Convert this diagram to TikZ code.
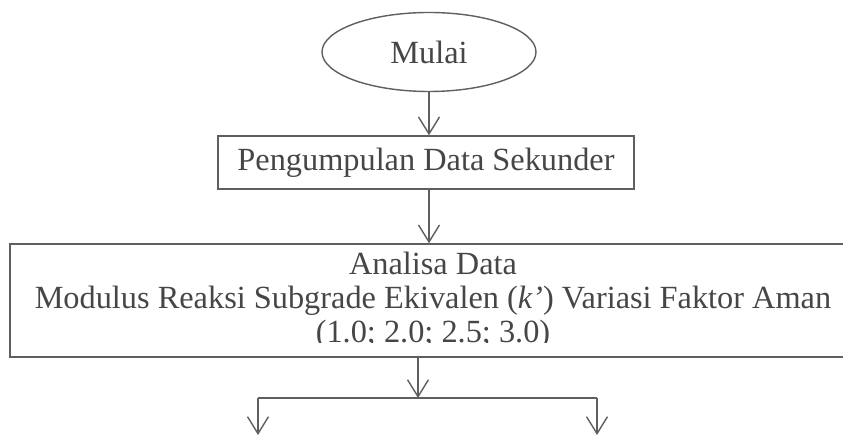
\documentclass[tikz,border=0pt]{standalone}
\usepackage{fontspec}
\setmainfont{Liberation Serif}
\usetikzlibrary{shapes.geometric}
\usetikzlibrary{arrows.meta}
\definecolor{garis}{RGB}{95,95,95}
\definecolor{tulisan}{RGB}{70,70,70}
\tikzset{
  teks/.style = {text = tulisan, font = \fontsize{18.4}{19.8}\selectfont, inner sep = 0pt},
  kotak/.style = {draw = garis, line width = 0.8pt, rectangle, inner sep = 0pt},
  panah/.style = {draw = garis, line width = 0.8pt, -{Straight Barb[length = 3.4mm, width = 4.2mm]}}
}

\begin{document}
\begin{tikzpicture}[scale = 1]

			\useasboundingbox (0, 0) rectangle (16.86, -8.70); % page size

			\node[draw = garis, line width = 0.8pt, ellipse, teks, minimum width = 4.28cm, minimum height = 1.58cm] (mulai) at (8.58, -1.04) {Mulai};
			\node[kotak, teks, minimum width = 8.32cm, minimum height = 1.06cm] (kumpul) at (8.52, -3.25) {Pengumpulan Data Sekunder};
			\node[kotak, minimum width = 17.8cm, minimum height = 2.26cm] (analisa) at (9.1, -6.01) {}; % right side leaves the page

			\node[teks, anchor = base] (judul) at (8.66, -5.50) {Analisa Data};
			\node[teks, anchor = base] (modulus) at (8.66, -6.18) {Modulus Reaksi Subgrade Ekivalen (\textit{k’}) Variasi Faktor Aman};
			\begin{scope}
				\clip (0.3, -6.86) rectangle (16.86, -6.3); % lower half of the last line is cut
				\node[teks, anchor = base] (faktor) at (8.66, -6.86) {(1.0; 2.0; 2.5; 3.0)};
			\end{scope}

			\coordinate (cabang) at (8.36, -7.96);
			\coordinate (kiri) at (5.16, -7.96);
			\coordinate (kanan) at (11.94, -7.96);
			\coordinate (kiriBawah) at (5.16, -8.70);
			\coordinate (kananBawah) at (11.94, -8.70);

			\draw[panah] (mulai) -- (mulai |- kumpul.north);
			\draw[panah] (kumpul.south -| mulai) -- (mulai |- analisa.north);
			\draw[panah] (analisa.south -| cabang) -- (cabang);
			\draw[draw = garis, line width = 0.8pt] (kiriBawah |- kiri) -- (kanan); % branch line
			\draw[panah] (kiri) -- (kiriBawah);
			\draw[panah] (kanan) -- (kananBawah);

		\end{tikzpicture}
\end{document}
